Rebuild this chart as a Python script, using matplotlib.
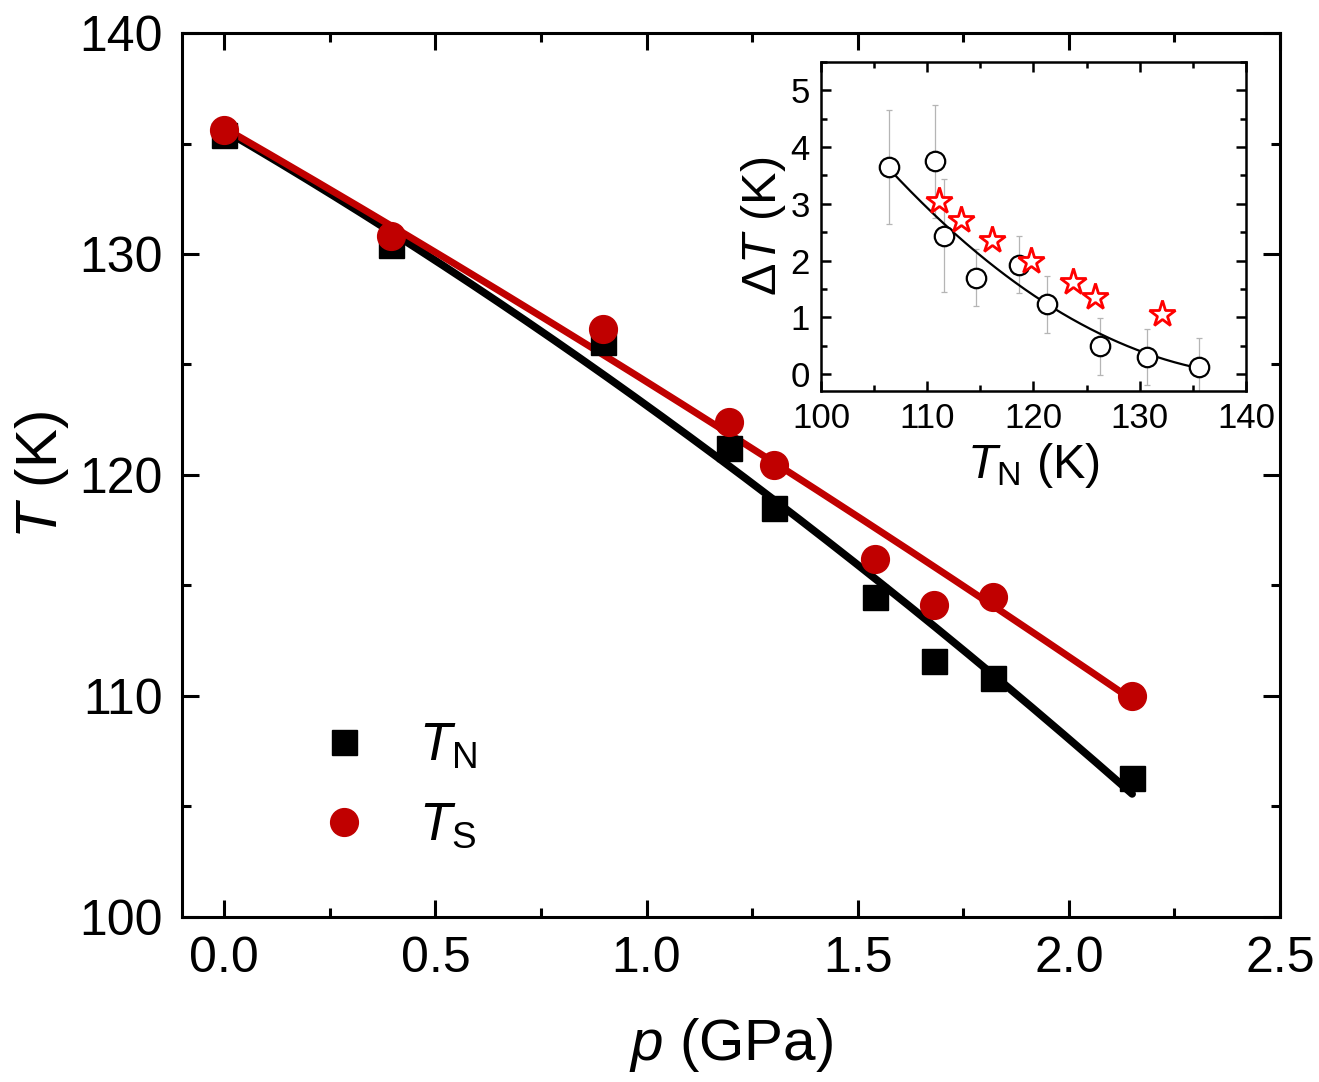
import numpy as np
import matplotlib
matplotlib.use("Agg")
import matplotlib.pyplot as plt
from matplotlib.ticker import MultipleLocator

plt.rcParams['font.family'] = ['Liberation Sans', 'DejaVu Sans']
plt.rcParams['mathtext.fontset'] = 'custom'
plt.rcParams['mathtext.rm'] = 'Liberation Sans'
plt.rcParams['mathtext.it'] = 'Liberation Sans:italic'
plt.rcParams['mathtext.bf'] = 'Liberation Sans:bold'

# ---- main panel data ----
pressure = [0.0, 0.396, 0.896, 1.196, 1.302, 1.542, 1.68, 1.82, 2.15]
T_N = [135.4, 130.4, 126.0, 121.2, 118.5, 114.5, 111.6, 110.8, 106.3]
T_S = [135.6, 130.8, 126.6, 122.4, 120.45, 116.2, 114.1, 114.5, 110.0]
# quadratic fit coefficients (highest power first)
fit_N = [-1.32, -11.13, 135.6]
fit_S = [-0.48, -11.0, 135.7]
fit_p_range = [0.0, 2.15]

# ---- inset data ----
inset_TN = [106.4, 110.7, 111.6, 114.6, 118.6, 121.3, 126.3, 130.7, 135.6]
inset_dT = [3.65, 3.75, 2.44, 1.70, 1.93, 1.23, 0.49, 0.30, 0.13]
inset_err = [1.0, 1.0, 1.0, 0.5, 0.5, 0.5, 0.5, 0.5, 0.5]
star_TN = [111.1, 113.2, 116.1, 119.8, 123.7, 125.8, 132.1]
star_dT = [3.05, 2.72, 2.36, 1.99, 1.63, 1.36, 1.06]
inset_fit = [0.002788, -0.2019, 3.62]   # in (TN - 106.4)
inset_fit_x0 = 106.4
inset_fit_range = [106.4, 135.6]

main_xticks = [0.0, 0.5, 1.0, 1.5, 2.0, 2.5]
main_yticks = [100, 110, 120, 130, 140]

RED = '#C00000'

fig = plt.figure(figsize=(13.19, 10.82), dpi=100)
ax = fig.add_axes([0.138, 0.1525, 0.8324, 0.817])

pp = np.linspace(fit_p_range[0], fit_p_range[1], 200)
ax.plot(pp, np.polyval(fit_N, pp), color='black', lw=5.5, solid_capstyle='round', zorder=2)
ax.plot(pp, np.polyval(fit_S, pp), color=RED, lw=5, solid_capstyle='round', zorder=3)
ax.plot(pressure, T_N, 's', color='black', ms=18, zorder=4, label=r'$T_{\mathrm{N}}$')
ax.plot(pressure, T_S, 'o', color=RED, ms=20, zorder=5, label=r'$T_{\mathrm{S}}$')

ax.set_xlim(-0.1, 2.5)
ax.set_ylim(100, 140)
ax.set_xticks(main_xticks)
ax.set_yticks(main_yticks)
ax.set_xticklabels([f'{v:.1f}' for v in main_xticks])
ax.xaxis.set_minor_locator(MultipleLocator(0.25))
ax.yaxis.set_minor_locator(MultipleLocator(5))
ax.tick_params(which='both', direction='in', top=True, right=True, width=2.2,
               labelsize=36, pad=14)
ax.tick_params(which='major', length=12)
ax.tick_params(which='minor', length=6.5)
for s in ax.spines.values():
    s.set_linewidth(2.2)
ax.set_xlabel(r'$p$ (GPa)', fontsize=42, labelpad=24)
ax.set_ylabel(r'$T$ (K)', fontsize=42, labelpad=6)

leg = ax.legend(loc='upper left', bbox_to_anchor=(0.1045, 0.245), frameon=False,
                fontsize=38, handlelength=1.0, handletextpad=0.92,
                labelspacing=0.56, numpoints=1, borderaxespad=0)

# ---- inset ----
ins = fig.add_axes([0.6224, 0.6386, 0.3222, 0.3041])
xx = np.linspace(inset_fit_range[0], inset_fit_range[1], 200)
ins.plot(xx, np.polyval(inset_fit, xx - inset_fit_x0), color='black', lw=1.6, zorder=2)
ins.errorbar(inset_TN, inset_dT, yerr=inset_err, fmt='none', ecolor='#b5b5b5',
             elinewidth=0.9, capsize=2, capthick=0.9, zorder=1)
ins.plot(inset_TN, inset_dT, 'o', mfc='white', mec='black', ms=14, mew=1.6, zorder=3)
ins.plot(star_TN, star_dT, '*', mfc='white', mec='#FF0000', ms=20, mew=2, zorder=4)
ins.set_xlim(100, 140)
ins.set_ylim(-0.3, 5.5)
ins.set_xticks([100, 110, 120, 130, 140])
ins.set_yticks([0, 1, 2, 3, 4, 5])
ins.xaxis.set_minor_locator(MultipleLocator(5))
ins.yaxis.set_minor_locator(MultipleLocator(0.5))
ins.tick_params(which='both', direction='in', top=True, right=True, width=1.8,
                labelsize=25, pad=8)
ins.tick_params(which='major', length=7.5)
ins.tick_params(which='minor', length=4.5)
for s in ins.spines.values():
    s.set_linewidth(1.8)
ins.set_xlabel(r'$T_{\mathrm{N}}$ (K)', fontsize=35, labelpad=4)
ins.set_ylabel(r'$\Delta T$ (K)', fontsize=35, labelpad=2)

fig.savefig('out.png', dpi=100)
